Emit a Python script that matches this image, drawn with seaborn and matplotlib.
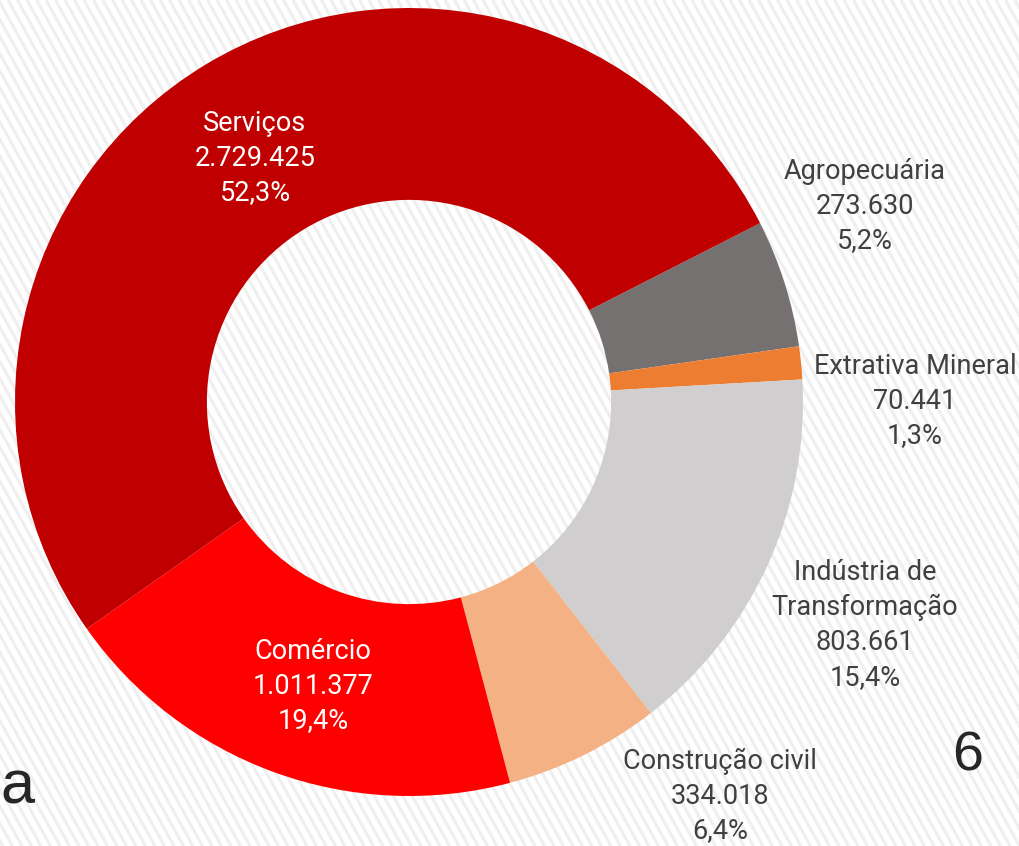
import numpy as np
import matplotlib
matplotlib.use("Agg")
import matplotlib.pyplot as plt
from matplotlib.collections import LineCollection
import seaborn as sns

# ---- data ----
categories = ["Agropecuária", "Extrativa Mineral", "Indústria de\nTransformação",
              "Construção civil", "Comércio", "Serviços"]
values = [273630, 70441, 803661, 334018, 1011377, 2729425]
value_labels = ["273.630", "70.441", "803.661", "334.018", "1.011.377", "2.729.425"]
pct_labels = ["5,2%", "1,3%", "15,4%", "6,4%", "19,4%", "52,3%"]
colors = ["#767171", "#ED7D31", "#D0CECE", "#F4B183", "#FF0000", "#C00000"]

sns.set_theme(style="white")
font_list = ["Roboto", "Liberation Sans", "DejaVu Sans"]
plt.rcParams["font.family"] = font_list

W, H = 1019, 846
fig = plt.figure(figsize=(W / 100, H / 100), dpi=100)
fig.patch.set_facecolor("white")

# background diagonal stripes (decoration)
bg = fig.add_axes([0, 0, 1, 1])
bg.set_xlim(0, W)
bg.set_ylim(0, H)
bg.axis("off")
segs = []
slope = 1.8
for x0 in np.arange(-600, W + 600, 9.5):
    segs.append([(x0, H), (x0 + H / slope, 0)])
bg.add_collection(LineCollection(segs, colors="#efefef", linewidths=2.2))

ax = fig.add_axes([0, 0, 1, 1])
ax.set_xlim(0, W)
ax.set_ylim(0, H)
ax.set_aspect("equal")
ax.axis("off")
ax.patch.set_alpha(0)

cx, cy = 409, H - 402
R = 394
ring = 0.487

wedges, _ = ax.pie(values, colors=colors, startangle=27, counterclock=False,
                   center=(cx, cy), radius=R,
                   wedgeprops=dict(width=R * ring, edgecolor="none"))
ax.set_xlim(0, W)
ax.set_ylim(0, H)

# label offsets relative to center (pixels)
offsets = [(456, 196), (506, 1), (456, -223), (311, -394), (-96, -284), (-154, 244)]
text_colors = ["#404040", "#404040", "#404040", "#404040", "white", "white"]
for cat, vl, pl, (dx, dy), tc in zip(categories, value_labels, pct_labels, offsets, text_colors):
    ax.text(cx + dx, cy + dy, f"{cat}\n{vl}\n{pl}", ha="center", va="center",
            fontsize=19.5, color=tc, linespacing=1.37)

# slide remnants
ax.text(0, H - 803, "a", fontsize=44, color="#262626", ha="left", va="baseline",
        family=["Liberation Sans", "DejaVu Sans"])
ax.text(968, H - 770, "6", fontsize=40, color="#262626", ha="center", va="baseline",
        family=["Liberation Sans", "DejaVu Sans"])

fig.savefig("out.png", dpi=100, facecolor="white")
